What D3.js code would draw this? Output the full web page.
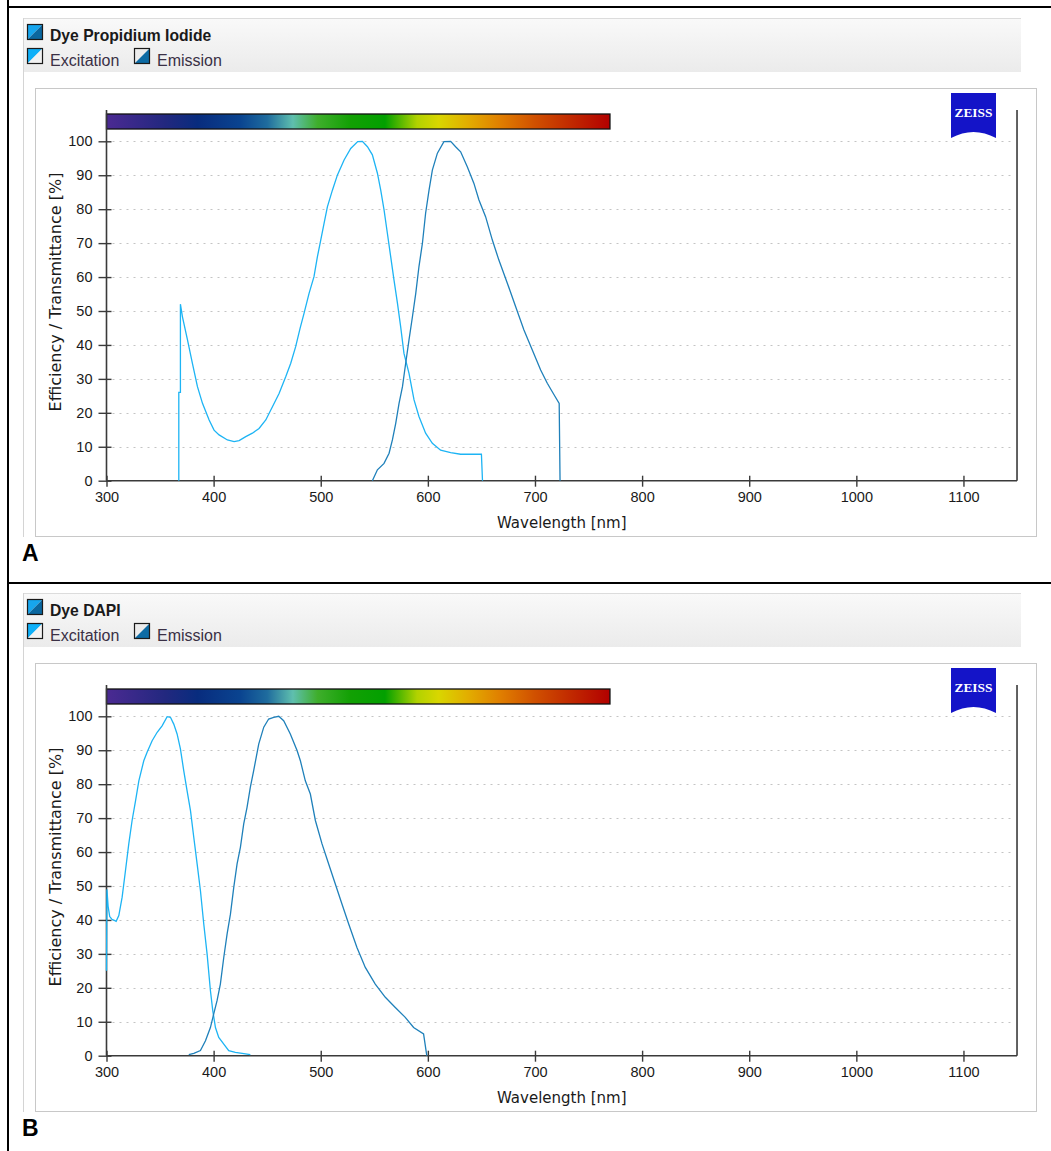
<!DOCTYPE html>
<html>
<head>
<meta charset="utf-8">
<script src="https://cdn.jsdelivr.net/npm/d3@7"></script>
<style>
  body { margin: 0; background: #fff; }
  svg { display: block; font-family: "Liberation Sans", Arial, sans-serif; }
</style>
</head>
<body>
<svg id="chart" width="1051" height="1151"></svg>
<script>
// wavelength axis ticks and efficiency ticks
const xTicks = [300, 400, 500, 600, 700, 800, 900, 1000, 1100];
const yTicks = [0, 10, 20, 30, 40, 50, 60, 70, 80, 90, 100];

// visible spectrum bar stops [nm, colour]
const spectrumStops = [
    [300, '#4b2a92'], [355, '#22287f'], [385, '#082c7e'], [425, '#0a4490'],
    [450, '#1f6c9e'], [474, '#5fbfae'], [497, '#3fae2c'], [528, '#12a004'],
    [560, '#02a000'], [590, '#b2d200'], [610, '#d9d600'], [637, '#e2ae00'],
    [668, '#e07e00'], [700, '#d05000'], [731, '#c22c00'], [770, '#b20000']
];

// Propidium Iodide, [wavelength nm, %]
const piExcitation = [
    [367.5, 0], [367.5, 26], [369, 26], [369, 52], [370.9, 48.3], [375.6, 41.5],
    [380.2, 34.6], [384.9, 27.7], [389.6, 22.8], [395.8, 17.9], [400.4, 14.9],
    [405.1, 13.5], [412.9, 12.0], [419.1, 11.5], [423.8, 11.8], [430, 13.0],
    [436.2, 14.0], [442.4, 15.4], [448.7, 17.9], [454.9, 21.8], [461.1, 25.7],
    [467.3, 30.6], [472, 34.6], [476.6, 39.5], [480.7, 44.9], [484.4, 49.3],
    [489.1, 55.2], [493.7, 60.1], [496.9, 66.0], [500, 70.9], [503.1, 75.8],
    [506.2, 80.7], [510.9, 85.6], [515.6, 90.1], [521.8, 94.5], [528, 97.9],
    [534.5, 99.9], [538.9, 100], [543.6, 98.4], [548.2, 96.0], [552.9, 90.6],
    [556, 85.6], [559.1, 79.8], [562.2, 72.9], [565.3, 66.0], [568.4, 59.1],
    [571.6, 52.3], [574.6, 45.4], [577.7, 37.5], [582.4, 31.6], [587.1, 23.8],
    [591.7, 18.9], [597.9, 14.0], [604.2, 11.0], [611.9, 9.0], [621.3, 8.3],
    [630.6, 7.8], [650, 7.8], [651, 0]
];
const piEmission = [
    [548.2, 0], [552.9, 3.2], [559.1, 5.1], [563.8, 8.1], [566.9, 12.0],
    [570, 16.9], [573.1, 22.8], [576.3, 27.7], [579.3, 34.6], [582.4, 41.5],
    [585.6, 48.3], [588.7, 55.2], [591.7, 63.1], [594.9, 69.9], [597.9, 78.8],
    [601.1, 85.6], [604.2, 91.5], [608.9, 96.5], [615, 99.9], [621.3, 100],
    [625.9, 98.4], [630.6, 96.9], [636.8, 92.5], [643, 87.6], [647.7, 82.7],
    [653.9, 77.8], [660.2, 70.9], [666.3, 65.0], [674.2, 58.2], [681.9, 51.3],
    [689.7, 44.4], [697.5, 38.5], [705.3, 32.6], [711.5, 28.7], [717.1, 25.7],
    [722.6, 22.8], [723.4, 0]
];

// DAPI, [wavelength nm, %]
const dapiExcitation = [
    [300, 25], [300.4, 49], [301.5, 44], [303, 41], [305, 40.2], [307.8, 39.8],
    [309, 39.6], [311.5, 41.3], [314.6, 46.7], [317.7, 54.5], [320.8, 62.4],
    [323.9, 69.3], [327.1, 75.1], [330.2, 81.0], [334.8, 86.9], [337.9, 89.4],
    [342.6, 92.8], [347.3, 95.3], [351.9, 97.2], [356.6, 99.9], [359.7, 99.7],
    [362.8, 97.7], [365.9, 94.8], [369, 90.4], [372.1, 84.0], [375.2, 78.1],
    [378.4, 72.2], [381.5, 64.3], [384.6, 56.5], [387.7, 48.6], [390.8, 38.8],
    [393.9, 30.0], [397, 19.2], [399.2, 13.3], [401.7, 8.3], [404.8, 5.4],
    [409.5, 3.4], [414.1, 1.5], [420.3, 1.0], [426.6, 0.7], [434.3, 0.3]
];
const dapiEmission = [
    [376.8, 0.3], [381.5, 0.7], [387.7, 1.5], [392.4, 4.4], [397, 8.3],
    [400.1, 12.3], [403.2, 16.2], [406.3, 21.1], [409.5, 29.0], [412.6, 35.9],
    [415.7, 41.7], [418.8, 49.6], [421.9, 56.5], [425, 61.4], [428.1, 68.3],
    [431.2, 73.2], [434.3, 79.1], [437.4, 84.0], [442.1, 91.8], [446.8, 96.8],
    [451.4, 99.2], [456.1, 99.7], [460.8, 100], [465.4, 98.7], [471.6, 94.8],
    [477.9, 89.9], [481, 86.9], [485.6, 81.0], [490.3, 77.1], [495, 69.3],
    [501.2, 62.4], [507.4, 56.5], [513.6, 50.6], [519.8, 44.7], [526.1, 38.8],
    [533.8, 31.9], [541.6, 26.0], [550.9, 21.1], [560.3, 17.2], [569.6, 14.2],
    [578.9, 11.3], [586.7, 8.3], [596, 6.4], [599, 0]
];

const excitationColor = '#1db4f4';
const emissionColor = '#1f80ba';

const panels = [
    {oy: 0, dye: 'Dye Propidium Iodide', letter: 'A', ex: piExcitation, em: piEmission},
    {oy: 575, dye: 'Dye DAPI', letter: 'B', ex: dapiExcitation, em: dapiEmission}
];

var svg = d3.select('#chart');

var defs = svg.append('defs');

var hdrGrad = defs.append('linearGradient')
    .attr('id', 'hdrGrad').attr('x1', 0).attr('y1', 0).attr('x2', 0).attr('y2', 1);
hdrGrad.append('stop').attr('offset', '0%').attr('stop-color', '#f9f9f9');
hdrGrad.append('stop').attr('offset', '100%').attr('stop-color', '#ebebeb');

// outer figure frame
svg.append('line').attr('x1', 8).attr('y1', 0).attr('x2', 8).attr('y2', 1151)
    .attr('stroke', '#000').attr('stroke-width', 2);
svg.append('line').attr('x1', 8).attr('y1', 7).attr('x2', 1051).attr('y2', 7)
    .attr('stroke', '#000').attr('stroke-width', 2);
svg.append('line').attr('x1', 8).attr('y1', 583).attr('x2', 1051).attr('y2', 583)
    .attr('stroke', '#000').attr('stroke-width', 2);

function drawIcon(g, x, y, topColor, bottomColor) {
    g.append('path')
        .attr('d', 'M' + x + ',' + y + 'h16L' + x + ',' + (y + 16) + 'Z')
        .attr('fill', topColor);
    g.append('path')
        .attr('d', 'M' + (x + 16) + ',' + y + 'v16h-16Z')
        .attr('fill', bottomColor);
    g.append('rect')
        .attr('x', x + 0.5).attr('y', y + 0.5).attr('width', 15).attr('height', 15)
        .attr('fill', 'none').attr('stroke', '#1a1a1a').attr('stroke-width', 1.2);
}

function drawPanel(p, idx) {
    var oy = p.oy;
    var g = svg.append('g').attr('class', 'panel');

    // panel frame + header band
    g.append('line').attr('x1', 23.5).attr('y1', 18 + oy).attr('x2', 23.5).attr('y2', 537 + oy)
        .attr('stroke', '#d4d4d4');
    g.append('rect').attr('x', 24).attr('y', 19 + oy).attr('width', 997).attr('height', 53)
        .attr('fill', 'url(#hdrGrad)');
    g.append('line').attr('x1', 24).attr('y1', 18.5 + oy).attr('x2', 1021).attr('y2', 18.5 + oy)
        .attr('stroke', '#dcdcdc');

    drawIcon(g, 27, 24 + oy, '#17a6ee', '#0b679f');
    g.append('text').attr('x', 50).attr('y', 41 + oy)
        .attr('font-size', 15.7).attr('font-weight', 'bold').attr('fill', '#1a1a1a')
        .text(p.dye);

    drawIcon(g, 27, 48 + oy, '#0fb0f8', '#f2f2f2');
    g.append('text').attr('x', 50).attr('y', 65.5 + oy)
        .attr('font-size', 16).attr('fill', '#3a3045')
        .text('Excitation');
    drawIcon(g, 134, 48 + oy, '#ececec', '#0d6ba4');
    g.append('text').attr('x', 157).attr('y', 65.5 + oy)
        .attr('font-size', 16).attr('fill', '#3a3045')
        .text('Emission');

    // chart box
    g.append('rect').attr('x', 35.5).attr('y', 88.5 + oy).attr('width', 1001).attr('height', 448)
        .attr('fill', '#fff').attr('stroke', '#c8c8c8');

    var x = d3.scaleLinear().domain([300, 1150]).range([106.5, 106.5 + 850 * 1.0712]);
    var y = d3.scaleLinear().domain([0, 100]).range([480.7 + oy, 141.3 + oy]);

    // dotted grid
    g.append('g').selectAll('line').data(yTicks.filter(function (d) { return d > 0; }))
        .join('line')
        .attr('x1', x(300) + 6).attr('x2', x(1150) - 6)
        .attr('y1', function (d) { return Math.round(y(d)) + 0.5; })
        .attr('y2', function (d) { return Math.round(y(d)) + 0.5; })
        .attr('stroke', '#c4c4c4').attr('stroke-width', 1)
        .attr('stroke-dasharray', '2,5');

    // spectrum colour bar
    var gradId = 'spec' + idx;
    var grad = defs.append('linearGradient').attr('id', gradId)
        .attr('gradientUnits', 'userSpaceOnUse')
        .attr('x1', x(300)).attr('x2', x(770)).attr('y1', 0).attr('y2', 0);
    spectrumStops.forEach(function (s) {
        grad.append('stop')
            .attr('offset', ((s[0] - 300) / 470 * 100) + '%')
            .attr('stop-color', s[1]);
    });
    g.append('rect')
        .attr('x', x(300)).attr('y', 114 + oy)
        .attr('width', x(770) - x(300)).attr('height', 15)
        .attr('fill', 'url(#' + gradId + ')')
        .attr('stroke', '#111').attr('stroke-width', 1.3);

    // y axis
    g.append('g')
        .attr('transform', 'translate(' + x(300) + ',0)')
        .call(d3.axisLeft(y).tickValues(yTicks).tickFormat(d3.format('d'))
            .tickSize(7).tickSizeOuter(0).tickPadding(6))
        .call(function (a) {
            a.select('.domain').attr('d', 'M0,' + (110 + oy) + 'V' + y(0))
                .attr('stroke', '#3a3a3a').attr('stroke-width', 1.6);
            a.selectAll('.tick line').attr('x1', 5).attr('x2', -8)
                .attr('stroke', '#3a3a3a').attr('stroke-width', 1.4);
            a.selectAll('.tick text').attr('x', -14)
                .attr('font-size', 14.5).attr('fill', '#1a1a1a')
                .attr('font-family', '"Liberation Sans", Arial, sans-serif');
        });

    // x axis
    g.append('g')
        .attr('transform', 'translate(0,' + y(0) + ')')
        .call(d3.axisBottom(x).tickValues(xTicks).tickFormat(d3.format('d'))
            .tickSize(6).tickSizeOuter(0).tickPadding(6))
        .call(function (a) {
            a.select('.domain').attr('d', 'M' + x(300) + ',0H' + x(1150))
                .attr('stroke', '#3a3a3a').attr('stroke-width', 1.6);
            a.selectAll('.tick line').attr('y1', -5).attr('y2', 6)
                .attr('stroke', '#3a3a3a').attr('stroke-width', 1.4);
            a.selectAll('.tick text').attr('y', 11)
                .attr('font-size', 14.5).attr('fill', '#1a1a1a')
                .attr('font-family', '"Liberation Sans", Arial, sans-serif');
        });

    // right frame line
    g.append('line')
        .attr('x1', x(1150)).attr('x2', x(1150))
        .attr('y1', 110 + oy).attr('y2', y(0))
        .attr('stroke', '#3a3a3a').attr('stroke-width', 1.6);

    // axis titles
    g.append('text')
        .attr('x', (x(300) + x(1150)) / 2).attr('y', 528 + oy)
        .attr('text-anchor', 'middle').attr('font-size', 15).attr('fill', '#1a1a1a')
        .attr('font-family', '"DejaVu Sans", Verdana, sans-serif')
        .text('Wavelength [nm]');
    g.append('text')
        .attr('transform', 'translate(61,' + (292 + oy) + ') rotate(-90)')
        .attr('text-anchor', 'middle').attr('font-size', 16).attr('fill', '#1a1a1a')
        .attr('font-family', '"DejaVu Sans", Verdana, sans-serif')
        .text('Efficiency / Transmittance [%]');

    // ZEISS logo
    g.append('path')
        .attr('d', 'M951,' + (93 + oy) + 'H996V' + (138 + oy) +
            'Q973.5,' + (126 + oy) + ' 951,' + (138 + oy) + 'Z')
        .attr('fill', '#1414c8');
    g.append('text')
        .attr('x', 954.5).attr('y', 116.5 + oy)
        .attr('font-family', '"Liberation Serif", "DejaVu Serif", serif')
        .attr('font-weight', 'bold').attr('font-size', 12.5).attr('fill', '#fff')
        .attr('textLength', 38).attr('lengthAdjust', 'spacingAndGlyphs')
        .text('ZEISS');

    // spectra
    var line = d3.line()
        .x(function (d) { return x(d[0]); })
        .y(function (d) { return y(d[1]); })
        .curve(d3.curveLinear);

    g.append('path').datum(p.ex)
        .attr('d', line).attr('fill', 'none')
        .attr('stroke', excitationColor).attr('stroke-width', 1.3);
    g.append('path').datum(p.em)
        .attr('d', line).attr('fill', 'none')
        .attr('stroke', emissionColor).attr('stroke-width', 1.3);

    // panel letter
    g.append('text')
        .attr('x', 22).attr('y', 561 + oy)
        .attr('font-size', 23).attr('font-weight', 'bold').attr('fill', '#000')
        .text(p.letter);
}

panels.forEach(drawPanel);
</script>
</body>
</html>
